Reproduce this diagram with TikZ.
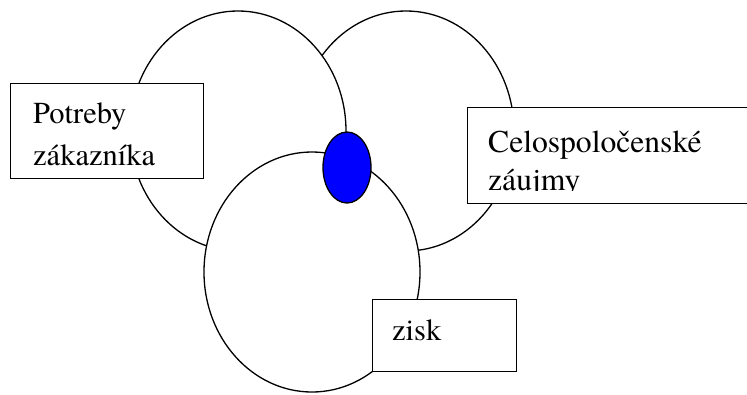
\documentclass[tikz,border=0pt]{standalone}
\usepackage{fontspec}
\setmainfont{texgyretermes-regular.otf}
\newfontfamily\tnr{texgyretermes-regular.otf}
\definecolor{dotblue}{RGB}{0,0,255}
\tikzset{
  circ/.style={draw=black, line width=1.3pt, fill=white},
  boxed/.style={draw=black, line width=1.2pt, fill=white, rectangle, inner sep=0pt, anchor=north west},
  lbl/.style={inner sep=0pt, anchor=base west, font=\tnr\fontsize{30.5}{36}\selectfont},
  lblbig/.style={lbl, font=\tnr\fontsize{31.6}{36}\selectfont}
}
\begin{document}
\begin{tikzpicture}[x=1pt,y=-1pt]
\useasboundingbox (0,0) rectangle (747,394);
% ellipses
\path[circ] (406,131) ellipse [x radius=108pt, y radius=120pt];
\path[circ] (238,131) ellipse [x radius=108pt, y radius=120pt];
\path[circ] (312,272) ellipse [x radius=108pt, y radius=120pt];
\path[circ, fill=dotblue] (347,167.5) ellipse [x radius=24pt, y radius=35.5pt];
% boxes
\node[boxed, minimum width=193pt, minimum height=95pt] (b1) at (10,83) {};
\node[lbl] (t1a) at (33,123) {Potreby};
\node[lbl] (t1b) at (33,165) {zákazníka};
\node[boxed, minimum width=282pt, minimum height=96pt] (b2) at (467,107) {};
\begin{scope}
\clip (467,107) rectangle (748,190.5);
\node[lblbig] (t2a) at (488,152) {Celospoločenské};
\node[lblbig] (t2b) at (488,190) {záujmy};
\end{scope}
\node[boxed, minimum width=144pt, minimum height=72pt] (b3) at (372,299) {};
\node[lbl] (t3) at (392,340) {zisk};
\end{tikzpicture}
\end{document}
